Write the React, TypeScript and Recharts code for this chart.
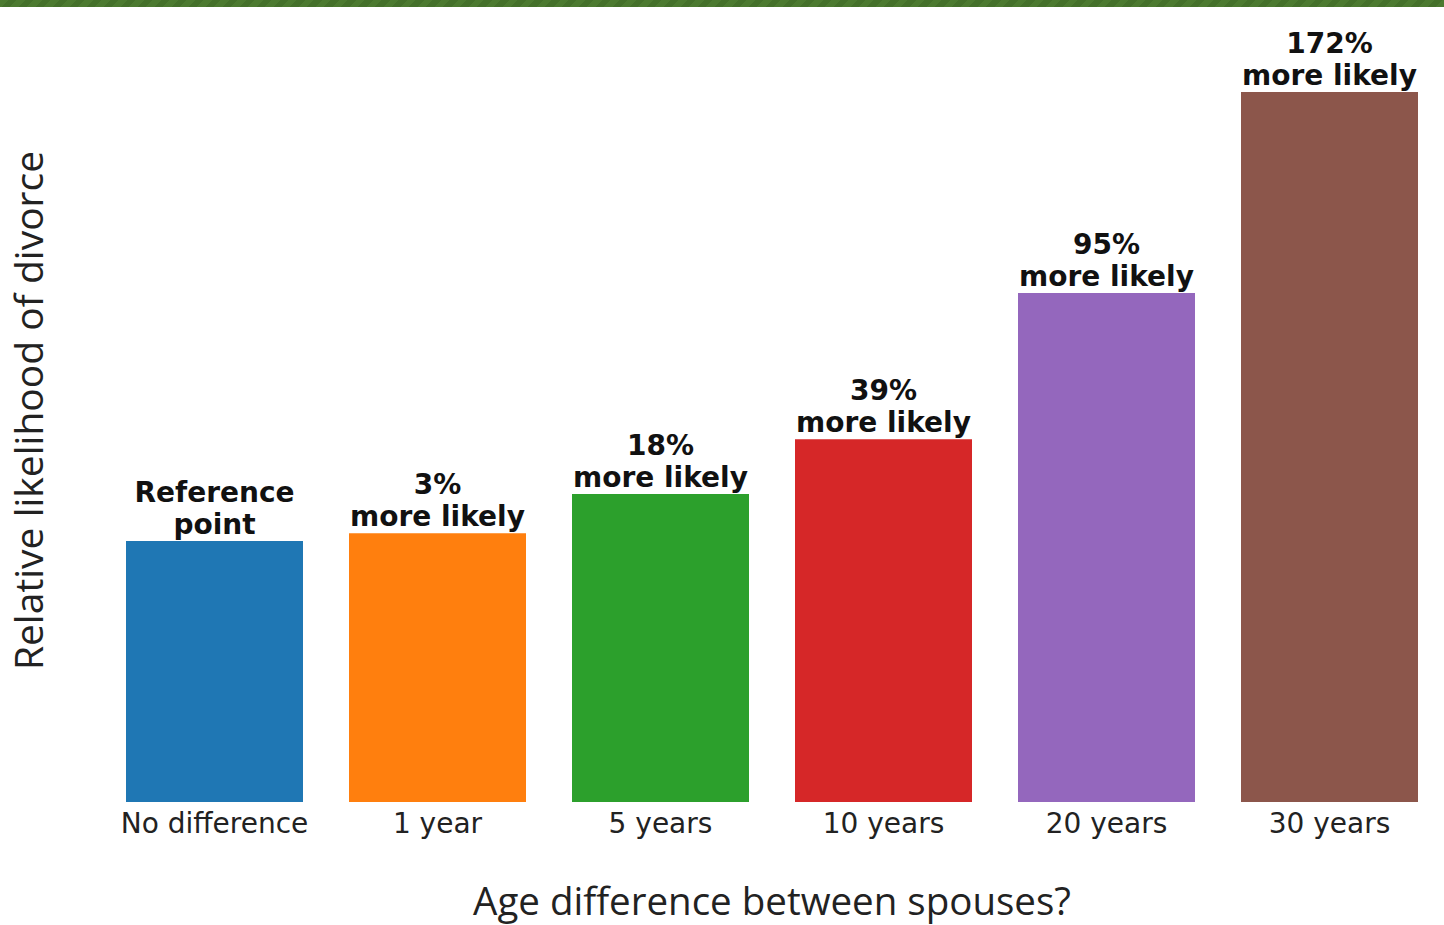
import { BarChart, Bar, XAxis, YAxis, LabelList, Cell } from 'recharts'

const categories = ['No difference', '1 year', '5 years', '10 years', '20 years', '30 years']
const likelihood = [1.0, 1.03, 1.18, 1.39, 1.95, 2.72]
const noteTop = ['Reference', '3%', '18%', '39%', '95%', '172%']
const noteBottom = ['point', 'more likely', 'more likely', 'more likely', 'more likely', 'more likely']
const barColors = ['#1f77b4', '#ff7f0e', '#2ca02c', '#d62728', '#9467bd', '#8c564b']

const chartData = categories.map((name, i) => ({
  name,
  value: likelihood[i],
  top: noteTop[i],
  bottom: noteBottom[i]
}))

const dejavu = 'DejaVu Sans, sans-serif'
const labelFont = 'Open Sans, Noto Sans, sans-serif'

export default function App() {
  return (
    <div style={{ position: 'absolute', left: 0, top: 0, width: 1444, height: 925, background: '#fff' }}>
      <div
        style={{
          height: 7,
          background: 'repeating-linear-gradient(135deg, #4c7a30 0px, #4c7a30 6px, #44702a 6px, #44702a 12px)'
        }}
      />
      <div style={{ position: 'absolute', left: 0, top: 0 }}>
        <BarChart
          width={1444}
          height={925}
          data={chartData}
          margin={{ top: 19, right: 3, bottom: 0, left: 0 }}
        >
          <XAxis
            dataKey="name"
            interval={0}
            axisLine={false}
            tickLine={false}
            tickMargin={5}
            height={123}
            tick={{ fontSize: 28, fontFamily: dejavu, fill: '#222' }}
            label={{
              value: 'Age difference between spouses?',
              position: 'insideBottom',
              offset: 10,
              style: { fontSize: 38.5, fontFamily: labelFont, fill: '#222' }
            }}
          />
          <YAxis
            domain={[0, 3]}
            width={103}
            axisLine={false}
            tickLine={false}
            tick={false}
            label={{
              value: 'Relative likelihood of divorce',
              angle: -90,
              position: 'insideLeft',
              offset: 29,
              style: { textAnchor: 'middle', fontSize: 39, fontFamily: labelFont, fill: '#222' }
            }}
          />
          <Bar dataKey="value" barSize={177} isAnimationActive={false}>
            {chartData.map((d, i) => (
              <Cell key={d.name} fill={barColors[i]} />
            ))}
            <LabelList
              dataKey="top"
              position="top"
              offset={39}
              style={{ fontSize: 28, fontWeight: 'bold', fontFamily: dejavu, fill: '#111' }}
            />
            <LabelList
              dataKey="bottom"
              position="top"
              offset={7}
              style={{ fontSize: 28, fontWeight: 'bold', fontFamily: dejavu, fill: '#111' }}
            />
          </Bar>
        </BarChart>
      </div>
    </div>
  )
}
